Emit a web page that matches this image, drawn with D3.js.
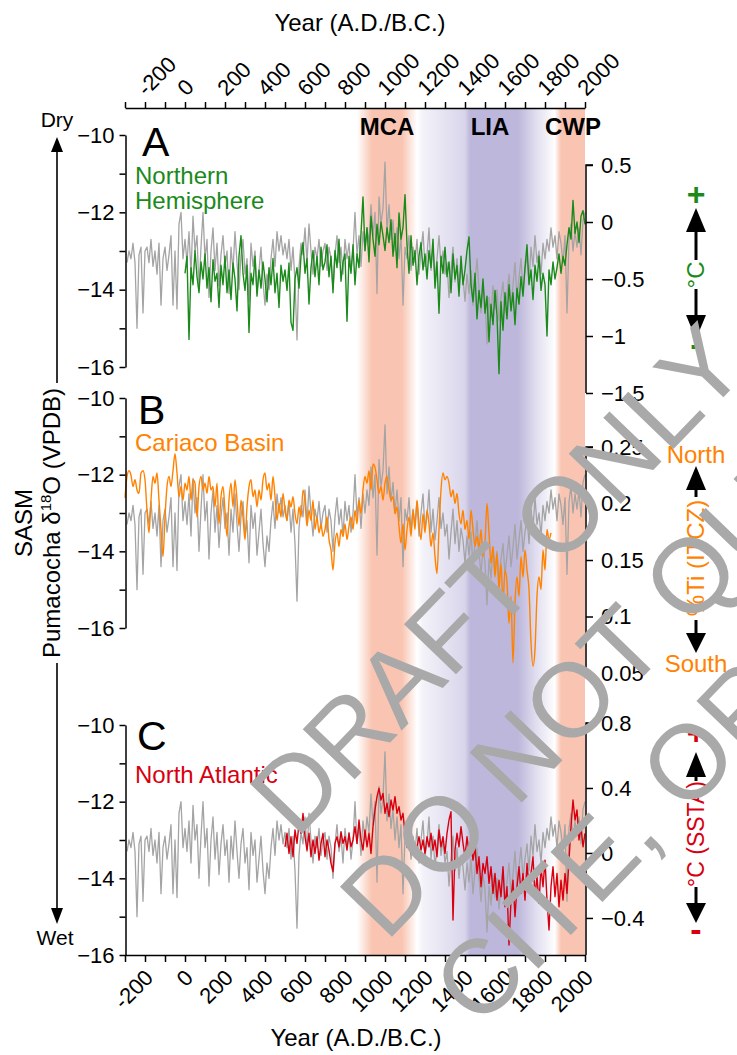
<!DOCTYPE html>
<html><head><meta charset="utf-8">
<script src="https://cdn.jsdelivr.net/npm/d3@7"></script>
<style>
body{margin:0;background:#fff}
svg{display:block;font-family:"Liberation Sans",Arial,Helvetica,sans-serif}
</style>
</head><body>
<svg id="chart" width="737" height="1055"></svg>
<script>
// ---------------- DATA ----------------
// Pumacocha δ18O (‰ VPDB), 10-yr samples from 290 B.C. to A.D. 2000
const pumaStart = -290;
const pumacocha = [
 -13.3,-13.0,-13.2,-12.8,-13.3,-15.0,-13.1,-12.9,-14.6,-13.0,
 -12.9,-13.3,-12.7,-13.4,-13.0,-13.6,-12.8,-14.4,-13.2,-12.9,
 -13.5,-13.1,-12.6,-14.4,-13.0,-14.5,-12.3,-12.0,-13.2,-12.7,
 -13.3,-12.5,-13.6,-12.1,-13.0,-12.6,-14.0,-12.9,-12.0,-13.2,
 -12.7,-14.2,-13.0,-12.4,-13.5,-12.8,-13.9,-13.1,-12.6,-13.4,
 -13.0,-14.1,-12.9,-13.5,-12.5,-13.3,-14.0,-13.1,-12.7,-13.6,
 -13.2,-14.3,-12.8,-13.4,-13.0,-14.1,-13.5,-12.9,-13.8,-14.4,
 -13.6,-14.0,-13.2,-12.7,-13.4,-12.5,-13.0,-12.6,-13.1,-12.8,
 -13.2,-12.7,-13.5,-12.9,-13.8,-15.3,-13.4,-12.8,-13.1,-12.4,
 -13.3,-12.3,-13.0,-13.6,-12.9,-13.2,-12.7,-13.4,-13.0,-12.8,
 -13.5,-12.9,-13.2,-14.0,-13.1,-12.6,-13.3,-12.9,-13.6,-12.7,
 -13.2,-12.8,-13.5,-13.0,-12.0,-13.1,-12.6,-13.4,-12.5,-13.0,
 -12.4,-12.8,-11.8,-12.6,-12.0,-14.1,-11.6,-12.3,-11.9,-10.7,
 -12.5,-11.8,-12.7,-12.2,-13.0,-12.4,-13.2,-12.6,-14.4,-12.9,
 -13.2,-12.6,-13.5,-12.9,-13.3,-12.7,-13.6,-13.0,-12.5,-13.4,
 -13.1,-12.4,-13.5,-12.9,-13.7,-13.2,-12.6,-13.4,-13.0,-13.6,
 -13.3,-14.2,-13.5,-12.9,-13.8,-13.2,-14.0,-13.4,-13.7,-14.3,
 -13.6,-14.1,-13.5,-14.4,-13.8,-13.2,-14.0,-14.6,-13.9,-14.3,
 -15.4,-14.2,-14.7,-13.9,-14.5,-14.0,-14.8,-14.2,-13.8,-14.6,
 -14.1,-13.6,-14.4,-13.9,-13.3,-14.2,-13.7,-13.2,-14.0,-13.5,
 -13.1,-13.8,-12.9,-13.4,-12.6,-13.3,-13.0,-13.6,-12.8,-13.2,
 -12.7,-13.0,-12.4,-12.9,-12.6,-13.2,-12.5,-12.8,-13.3,-12.6,
 -14.6,-12.7,-12.3,-13.0,-12.5,-12.9,-12.4,-13.1,-12.2,-12.0
];
// Northern Hemisphere temperature anomaly (°C), A.D. 0-2000
const nhStart = 0;
const nhTemp = [
 -0.45,-0.30,-1.03,-0.40,-0.55,-0.25,-0.48,-0.62,-0.35,-0.50,-0.28,
 -0.58,-0.40,-0.70,-0.33,-0.52,-0.45,-0.75,-0.38,-0.55,-0.30,
 -0.62,-0.42,-0.68,-0.36,-0.50,-0.78,-0.30,-0.12,-0.45,-0.60,
 -0.38,-0.97,-0.45,-0.55,-0.30,-0.65,-0.42,-0.58,-0.35,-0.50,
 -0.70,-0.40,-0.55,-0.32,-0.62,-0.45,-0.75,-0.38,-0.52,-0.42,
 -0.60,-0.36,-0.88,-0.95,-0.50,-0.40,-0.58,-0.30,-0.18,-0.45,
 -0.32,-0.72,-0.40,-0.25,-0.48,-0.30,-0.55,-0.22,-0.42,-0.35,
 -0.20,-0.48,-0.30,-0.62,-0.25,-0.40,-0.15,-0.52,-0.35,-0.28,
 -0.87,-0.30,-0.45,-0.20,-0.55,-0.28,-0.40,-0.10,0.22,-0.25,
 -0.05,-0.35,0.05,-0.15,-0.30,-0.02,-0.20,0.00,-0.12,-0.25,
 -0.05,-0.18,0.02,-0.30,-0.10,-0.40,0.08,-0.15,-0.05,0.24,
 -0.20,-0.45,-0.12,-0.38,-0.25,-0.55,-0.30,-0.18,-0.42,-0.28,
 -0.50,-0.25,-0.40,-0.15,-0.58,-0.35,-0.80,-0.30,-0.45,-0.22,
 -0.48,-0.35,-0.62,-0.28,-0.50,-0.38,-0.65,-0.30,-0.55,-0.42,
 -0.25,-0.13,-0.55,-0.70,-0.45,-0.85,-0.60,-0.75,-0.50,-0.80,
 -0.65,-1.05,-0.72,-0.90,-0.60,-0.82,-1.33,-0.70,-0.95,-0.62,
 -0.85,-0.55,-0.78,-0.62,-0.90,-0.58,-0.72,-0.48,-0.65,-0.40,
 -0.20,-0.55,-0.42,-0.68,-0.38,-0.52,-0.30,-0.60,-0.45,-0.55,
 -1.00,-0.42,-0.55,-0.35,-0.50,-0.40,-0.28,-0.45,-0.30,-0.38,
 -0.20,-0.05,-0.15,0.19,-0.10,0.00,-0.18,0.05,0.10,-0.02
];
// Cariaco Basin %Ti, 300 B.C. - A.D. 1830
const cariacoStart = -300;
const cariacoTi = [
 0.205,0.224,0.229,0.225,0.215,0.221,0.212,0.209,0.227,0.229,
 0.221,0.194,0.174,0.203,0.224,0.218,0.227,0.203,0.177,0.153,
 0.188,0.215,0.224,0.215,0.229,0.244,0.227,0.206,0.215,0.203,
 0.218,0.212,0.224,0.203,0.221,0.218,0.188,0.215,0.224,0.212,
 0.218,0.209,0.224,0.212,0.215,0.197,0.218,0.182,0.206,0.215,
 0.194,0.171,0.203,0.218,0.197,0.221,0.203,0.180,0.203,0.188,
 0.168,0.197,0.215,0.221,0.206,0.212,0.197,0.212,0.203,0.221,
 0.227,0.212,0.218,0.203,0.224,0.206,0.185,0.200,0.188,0.209,
 0.194,0.185,0.203,0.197,0.206,0.191,0.182,0.197,0.188,0.212,
 0.203,0.180,0.194,0.185,0.203,0.177,0.188,0.174,0.182,0.171,
 0.177,0.188,0.168,0.159,0.141,0.165,0.174,0.162,0.177,0.171,
 0.182,0.168,0.180,0.188,0.177,0.194,0.182,0.203,0.191,0.212,
 0.224,0.218,0.229,0.212,0.235,0.232,0.221,0.209,0.215,0.203,
 0.218,0.224,0.212,0.203,0.206,0.191,0.197,0.180,0.165,0.182,
 0.159,0.177,0.188,0.171,0.194,0.177,0.203,0.182,0.168,0.191,
 0.174,0.194,0.182,0.162,0.174,0.153,0.138,0.177,0.212,0.227,
 0.221,0.224,0.218,0.206,0.212,0.200,0.209,0.191,0.182,0.194,
 0.177,0.185,0.168,0.194,0.177,0.162,0.171,0.159,0.177,0.153,
 0.165,0.200,0.174,0.147,0.162,0.135,0.156,0.124,0.147,0.112,
 0.141,0.130,0.094,0.118,0.059,0.112,0.135,0.118,0.153,0.135,
 0.159,0.141,0.124,0.077,0.056,0.071,0.118,0.135,0.124,0.159,
 0.141,0.177,0.168,0.174
];
// North Atlantic SST anomaly (°C), A.D. 500-2000
const naStart = 500;
const naSST = [
 0.038,0.121,-0.003,0.100,-0.023,0.142,0.059,0.183,0.121,0.244,
 0.100,0.018,0.121,-0.023,0.080,-0.003,0.100,-0.044,0.059,0.121,
 -0.023,0.080,0.018,-0.064,-0.115,0.059,0.100,0.038,0.131,0.059,
 0.100,0.018,0.121,0.038,0.080,0.162,0.059,0.203,0.080,0.018,
 0.142,0.038,0.121,-0.003,0.162,0.265,0.347,0.398,0.326,0.367,
 0.244,0.306,0.224,0.326,0.265,0.347,0.244,0.285,0.203,0.244,
 0.121,0.038,0.080,-0.003,0.059,-0.023,0.038,0.100,0.018,0.080,
 -0.003,0.100,0.038,0.121,0.018,0.080,-0.023,0.142,0.038,0.100,
 -0.003,0.121,0.203,0.254,-0.413,0.018,0.121,0.038,0.162,0.059,
 -0.023,0.100,-0.003,0.059,-0.044,0.038,-0.126,-0.023,-0.208,-0.064,
 -0.126,-0.023,-0.187,-0.085,-0.249,-0.126,-0.290,-0.167,-0.269,-0.085,
 -0.331,-0.208,-0.567,-0.290,-0.167,-0.392,-0.208,-0.085,-0.249,-0.126,
 -0.290,-0.064,-0.208,-0.126,-0.023,-0.269,-0.146,-0.310,-0.085,-0.208,
 -0.044,-0.290,-0.474,-0.208,-0.085,-0.269,-0.126,-0.331,-0.167,-0.290,
 -0.126,-0.249,-0.044,0.162,0.326,0.203,0.265,0.080,0.162,0.038,0.121
];
const sampleStep = 10;

// Axis tick values / labels
const yearTicks = d3.range(-300, 2001, 100);
const yearLabels = [-200,0,200,400,600,800,1000,1200,1400,1600,1800,2000];
const d18OTicks = [-16,-15,-14,-13,-12,-11,-10];
const d18OLabels = [-16,-14,-12,-10];
const nhTicks = [0.5,0,-0.5,-1,-1.5];
const tiTicks = [0.25,0.2,0.15,0.1,0.05];
const sstTicks = [0.8,0.4,0,-0.4];

// Climate periods
const periodNames = ["MCA","LIA","CWP"];
const periodStart = [900, 1350, 1880];
const periodEnd   = [1120, 1700, 2000];

// ---------------- LAYOUT ----------------
const svg = d3.select("#chart");
const C = {gray:"#a4a4a4", green:"#1b8a1b", orange:"#ff8200", red:"#d80010",
           pink:"#f9c5b2", purple:"#bdb7db", wm:"#a9a9a9"};
const x = d3.scaleLinear([-300, 2000], [125, 585]);
const topAxisY = 108, bottomAxisY = 955;

const panels = [
  {id:"A", yL:d3.scaleLinear([-16,-10],[367,135]), yR:d3.scaleLinear([-1.5,0.5],[393,165]),
   rTicks:nhTicks, series:nhTemp, start:nhStart, color:C.green, curve:d3.curveLinear},
  {id:"B", yL:d3.scaleLinear([-16,-10],[628,398]), yR:d3.scaleLinear([0.05,0.25],[673,447]),
   rTicks:tiTicks, series:cariacoTi, start:cariacoStart, color:C.orange, curve:d3.curveMonotoneX},
  {id:"C", yL:d3.scaleLinear([-16,-10],[955,725]), yR:d3.scaleLinear([-0.628,0.8],[955,723]),
   rTicks:sstTicks, series:naSST, start:naStart, color:C.red, curve:d3.curveLinear}
];

const fmt = v => String(v).replace("-", "\u2212");

// ---------------- BANDS ----------------
const defs = svg.append("defs");
const grad = defs.append("linearGradient").attr("id","bands")
  .attr("gradientUnits","userSpaceOnUse")
  .attr("x1", x(-300)).attr("x2", x(2000)).attr("y1",0).attr("y2",0);
const stops = [
  [-300,"#ffffff"],[periodStart[0]-40,"#ffffff"],[periodStart[0]+35,C.pink],
  [periodEnd[0]-35,C.pink],[periodEnd[0]+40,"#ffffff"],[periodEnd[0]+70,"#f3f2f9"],
  [periodStart[1]+50,"#d8d5eb"],[periodStart[1]+75,C.purple],[periodEnd[1]-35,C.purple],
  [periodEnd[1]+60,"#e2e0f0"],[periodStart[2]-40,"#fbfbfd"],[periodStart[2]-32,"#ffffff"],
  [periodStart[2],C.pink],[2000,C.pink]
];
stops.forEach(s => grad.append("stop")
  .attr("offset", (x(s[0]) - x(-300)) / (x(2000) - x(-300)))
  .attr("stop-color", s[1]));
svg.append("rect").attr("x", x(-300)).attr("y", topAxisY + 1)
  .attr("width", x(2000) - x(-300)).attr("height", bottomAxisY - topAxisY - 1)
  .attr("fill","url(#bands)");

// period labels
periodNames.forEach((n,i) => {
  svg.append("text").attr("x", x((periodStart[i] + periodEnd[i]) / 2)).attr("y", 135)
    .attr("text-anchor","middle").attr("font-size",24).attr("font-weight","bold")
    .attr("fill","#000").text(n);
});

// ---------------- SERIES ----------------
panels.forEach(p => {
  const g = svg.append("g");
  const grayLine = d3.line().x((d,i) => x(pumaStart + i*sampleStep)).y(d => p.yL(d));
  g.append("path").attr("d", grayLine(pumacocha)).attr("fill","none")
    .attr("stroke", C.gray).attr("stroke-width",1.3).attr("stroke-linejoin","round");
  const colLine = d3.line().x((d,i) => x(p.start + i*sampleStep)).y(d => p.yR(d)).curve(p.curve);
  g.append("path").attr("d", colLine(p.series)).attr("fill","none")
    .attr("stroke", p.color).attr("stroke-width",1.4).attr("stroke-linejoin","round");
});

// ---------------- AXES ----------------
function styleAxis(g, fs){
  g.selectAll("path,line").attr("stroke","#000").attr("stroke-width",1.5);
  g.selectAll("text").attr("font-size",fs).attr("fill","#000")
    .attr("font-family",'"Liberation Sans",Arial,sans-serif');
  g.attr("font-family",null).attr("font-size",null);
}
panels.forEach(p => {
  const gl = svg.append("g").attr("transform","translate(125.5,0)")
    .call(d3.axisLeft(p.yL).tickValues(d18OTicks).tickSize(6).tickSizeOuter(0).tickPadding(5)
      .tickFormat(d => d18OLabels.includes(d) ? fmt(d) : ""));
  styleAxis(gl, 22);
  const gr = svg.append("g").attr("transform","translate(586,0)")
    .call(d3.axisRight(p.yR).tickValues(p.rTicks).tickSize(7).tickSizeOuter(0).tickPadding(8)
      .tickFormat(fmt));
  styleAxis(gr, 22);
  // restrict right axis line to the tick range (panel C runs down to the year axis)
  const r = p.yR.range(), tv = p.rTicks.map(p.yR);
  const top = d3.min(tv), bot = p.id === "C" ? r[0] : d3.max(tv);
  gr.select(".domain").attr("d", `M7,${top}H0V${bot}`);
});

const gt = svg.append("g").attr("transform",`translate(0,${topAxisY})`)
  .call(d3.axisTop(x).tickValues(yearTicks).tickSize(6).tickSizeOuter(0)
    .tickFormat(d => yearLabels.includes(d) ? String(d) : ""));
styleAxis(gt, 22);
gt.selectAll(".tick text").attr("x",0).attr("y",0).attr("dy",0)
  .attr("text-anchor","start").attr("transform","translate(1,-11) rotate(-45)");

const gb = svg.append("g").attr("transform",`translate(0,${bottomAxisY})`)
  .call(d3.axisBottom(x).tickValues(yearTicks).tickSize(7).tickSizeOuter(0)
    .tickFormat(d => yearLabels.includes(d) ? String(d) : ""));
styleAxis(gb, 22);
gb.selectAll(".tick text").attr("x",0).attr("y",0).attr("dy",0)
  .attr("text-anchor","end").attr("transform","translate(9,24) rotate(-45)");

// axis titles
svg.append("text").attr("x",360).attr("y",31).attr("text-anchor","middle")
  .attr("font-size",24).text("Year (A.D./B.C.)");
svg.append("text").attr("x",356).attr("y",1046).attr("text-anchor","middle")
  .attr("font-size",24).text("Year (A.D./B.C.)");

// panel letters and labels
[["A",142,156],["B",138,424],["C",137,750]].forEach(d =>
  svg.append("text").attr("x",d[1]).attr("y",d[2]).attr("font-size",41).text(d[0]));
svg.append("text").attr("x",135).attr("y",184).attr("font-size",24).attr("fill",C.green).text("Northern");
svg.append("text").attr("x",135).attr("y",209).attr("font-size",24).attr("fill",C.green).text("Hemisphere");
svg.append("text").attr("x",135).attr("y",451).attr("font-size",24).attr("fill",C.orange).text("Cariaco Basin");
svg.append("text").attr("x",135).attr("y",783).attr("font-size",24).attr("fill",C.red).text("North Atlantic");

// ---------------- LEFT ANNOTATION ----------------
function arrow(xc, tip, base, hw){
  svg.append("path").attr("d",`M${xc},${tip}L${xc-hw},${base}L${xc+hw},${base}Z`).attr("fill","#000");
}
function vline(xc, y1, y2, w){
  svg.append("line").attr("x1",xc).attr("x2",xc).attr("y1",y1).attr("y2",y2)
    .attr("stroke","#000").attr("stroke-width",w);
}
vline(57, 150, 383, 1.6); arrow(57, 137, 152, 6);
vline(57, 663, 910, 1.6); arrow(57, 924, 908, 6);
svg.append("text").attr("x",57).attr("y",127).attr("text-anchor","middle").attr("font-size",21).text("Dry");
svg.append("text").attr("x",55).attr("y",945).attr("text-anchor","middle").attr("font-size",21).text("Wet");
svg.append("text").attr("transform","translate(32,523) rotate(-90)").attr("text-anchor","middle")
  .attr("font-size",24).text("SASM");
const yl = svg.append("text").attr("transform","translate(60,523) rotate(-90)")
  .attr("text-anchor","middle").attr("font-size",24);
yl.append("tspan").text("Pumacocha \u03B4");
yl.append("tspan").attr("font-size",15).attr("dy",-9).text("18");
yl.append("tspan").attr("dy",9).text("O (VPDB)");

// ---------------- RIGHT ANNOTATIONS ----------------
const ax = 696;
// A
svg.append("text").attr("x",ax).attr("y",205).attr("text-anchor","middle").attr("font-size",32)
  .attr("font-weight","bold").attr("fill",C.green).text("+");
arrow(ax, 208, 232, 10); vline(ax, 230, 260, 3);
svg.append("text").attr("transform",`translate(${ax},275) rotate(-90)`).attr("dy","0.35em")
  .attr("text-anchor","middle").attr("font-size",24).attr("fill",C.green).text("\u00B0C");
vline(ax, 289, 317, 3); arrow(ax, 339, 315, 10);
svg.append("text").attr("x",ax).attr("y",356).attr("text-anchor","middle").attr("font-size",34)
  .attr("font-weight","bold").attr("fill",C.green).text("-");
// B
svg.append("text").attr("x",ax).attr("y",463).attr("text-anchor","middle").attr("font-size",24)
  .attr("fill",C.orange).text("North");
arrow(ax, 466, 490, 10); vline(ax, 488, 497, 3);
svg.append("text").attr("transform",`translate(${ax},558) rotate(-90)`).attr("dy","0.35em")
  .attr("text-anchor","middle").attr("font-size",24).attr("fill",C.orange).text("%Ti (ITCZ)");
vline(ax, 620, 635, 3); arrow(ax, 653, 633, 10);
svg.append("text").attr("x",ax).attr("y",672).attr("text-anchor","middle").attr("font-size",24)
  .attr("fill",C.orange).text("South");
// C
svg.append("text").attr("x",ax).attr("y",744).attr("text-anchor","middle").attr("font-size",32)
  .attr("font-weight","bold").attr("fill",C.red).text("+");
arrow(ax, 752, 777, 10); vline(ax, 775, 781, 3);
svg.append("text").attr("transform",`translate(${ax},834) rotate(-90)`).attr("dy","0.35em")
  .attr("text-anchor","middle").attr("font-size",23).attr("fill",C.red).text("\u00B0C (SSTA)");
vline(ax, 887, 905, 3); arrow(ax, 923, 903, 10);
svg.append("text").attr("x",ax).attr("y",941).attr("text-anchor","middle").attr("font-size",34)
  .attr("font-weight","bold").attr("fill",C.red).text("-");

// ---------------- WATERMARK ----------------
const wm = svg.append("g").attr("fill",C.wm).attr("font-size",105);
[["DRAFT ONLY",296,840],["DO NOT QUOTE,",386,943],["CITE, OR DISTRIBUTE",479,1030]].forEach(d =>
  wm.append("text").attr("transform",`translate(${d[1]},${d[2]}) rotate(-46)`).text(d[0]));
</script>
</body></html>
